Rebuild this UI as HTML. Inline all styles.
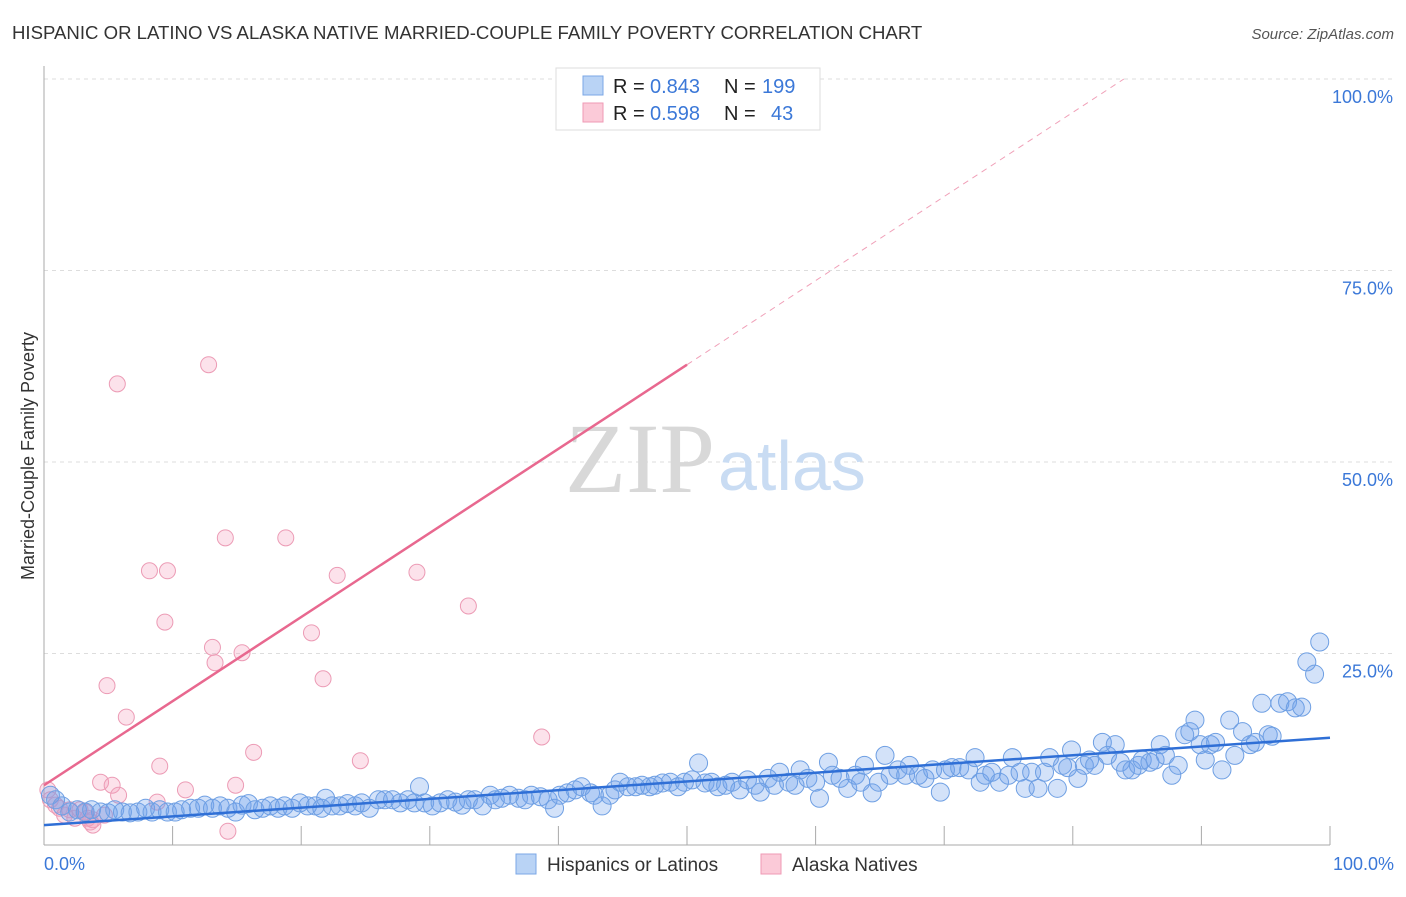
<!DOCTYPE html>
<html><head><meta charset="utf-8"><style>
body{margin:0;background:#fff;font-family:"Liberation Sans",sans-serif;}
</style></head><body>
<svg id="chart" width="1406" height="892" xmlns="http://www.w3.org/2000/svg" font-family="Liberation Sans, sans-serif">
<text x="12" y="39" font-size="18.6" fill="#333">HISPANIC OR LATINO VS ALASKA NATIVE MARRIED-COUPLE FAMILY POVERTY CORRELATION CHART</text>
<text x="1394" y="39" font-size="15" fill="#555" text-anchor="end" font-style="italic">Source: ZipAtlas.com</text>
<g id="grid"></g>
<text x="715" y="492" font-size="100" fill="#d8d8d8" text-anchor="end" style="font-family:'Liberation Serif',serif">ZIP</text>
<text x="718" y="490" font-size="70" fill="#c9dcf3">atlas</text>
<g id="marks"></g>
<text transform="translate(34,456) rotate(-90)" font-size="18" fill="#333" text-anchor="middle">Married-Couple Family Poverty</text>
<g font-size="20">
<rect x="556" y="68" width="264" height="62" fill="#fff" stroke="#ddd"/>
<rect x="583" y="76" width="20" height="19" fill="#b9d3f5" stroke="#7ba7e6"/>
<rect x="583" y="103" width="20" height="19" fill="#fbcad8" stroke="#ef9ab5"/>
<text x="613" y="93" fill="#222">R =</text>
<text x="650" y="93" fill="#3b78d8">0.843</text>
<text x="724" y="93" fill="#222">N =</text>
<text x="762" y="93" fill="#3b78d8">199</text>
<text x="613" y="120" fill="#222">R =</text>
<text x="650" y="120" fill="#3b78d8">0.598</text>
<text x="724" y="120" fill="#222">N =</text>
<text x="771" y="120" fill="#3b78d8">43</text>
</g>
<g>
<rect x="516" y="854" width="20" height="20" fill="#b9d3f5" stroke="#7ba7e6"/>
<text x="547" y="871" font-size="19" fill="#333">Hispanics or Latinos</text>
<rect x="761" y="854" width="20" height="20" fill="#fbcad8" stroke="#ef9ab5"/>
<text x="792" y="871" font-size="19" fill="#333">Alaska Natives</text>
</g>
</svg>
<script>
const yTicks=[25,50,75,100];
const yTickLabels=["25.0%","50.0%","75.0%","100.0%"];
const xTicks=[0,10,20,30,40,50,60,70,80,90,100];
const xLabels=["0.0%","100.0%"];
const blueX=[0.5,0.9,1.4,2.0,2.6,3.2,3.7,4.4,5.0,5.5,6.1,6.7,7.3,7.9,8.4,9.0,9.6,10.2,10.7,11.4,12.0,12.5,13.1,13.7,14.3,14.9,15.4,15.9,16.4,17.0,17.6,18.2,18.7,19.3,19.9,20.5,21.1,21.6,21.9,22.4,23.0,23.6,24.2,24.7,25.3,26.0,26.5,27.1,27.7,28.3,28.8,29.2,29.6,30.2,30.8,31.4,32.0,32.5,33.0,33.5,34.1,34.7,35.1,35.6,36.2,36.9,37.4,37.9,38.6,39.2,39.7,40.1,40.7,41.3,41.8,42.5,42.8,43.4,44.0,44.4,44.8,45.4,46.0,46.5,47.1,47.5,48.1,48.7,49.3,49.8,50.4,50.9,51.4,51.9,52.4,53.0,53.5,54.1,54.7,55.3,55.7,56.3,56.8,57.2,57.9,58.4,58.8,59.4,60.0,60.3,61.0,61.3,61.9,62.5,63.1,63.5,63.8,64.4,64.9,65.4,65.8,66.4,67.0,67.3,68.0,68.5,69.1,69.7,70.1,70.6,71.2,71.9,72.4,72.8,73.2,73.7,74.3,75.0,75.3,75.9,76.3,76.8,77.3,77.8,78.2,78.8,79.2,79.6,79.9,80.4,80.9,81.3,81.7,82.3,82.7,83.3,83.7,84.1,84.6,85.1,85.4,86.0,86.4,86.8,87.2,87.7,88.2,88.7,89.1,89.5,89.9,90.3,90.7,91.1,91.6,92.2,92.6,93.2,93.8,94.2,94.7,95.2,95.5,96.1,96.7,97.3,97.8,98.2,98.8,99.2];
const blueY=[6.5,5.9,5.1,4.3,4.6,4.3,4.6,4.3,4.2,4.6,4.3,4.2,4.3,4.8,4.3,4.6,4.3,4.3,4.6,4.8,4.8,5.2,4.8,5.1,4.8,4.3,5.2,5.4,4.6,4.8,5.1,4.8,5.1,4.8,5.5,5.1,5.1,4.8,6.1,5.1,5.1,5.4,5.1,5.5,4.8,5.9,5.9,5.9,5.5,5.9,5.5,7.6,5.5,5.1,5.5,5.9,5.6,5.2,5.9,5.9,5.1,6.5,5.9,6.1,6.5,6.1,5.9,6.5,6.3,5.9,4.8,6.5,6.8,7.2,7.6,6.8,6.5,5.1,6.5,7.2,8.2,7.6,7.6,7.8,7.6,7.8,8.1,8.2,7.6,8.2,8.5,10.7,8.1,8.2,7.6,7.8,8.2,7.2,8.5,7.8,6.9,8.7,7.8,9.5,8.2,7.8,9.8,8.7,8.2,6.1,10.8,9.1,8.7,7.4,9.1,8.2,10.4,6.8,8.2,11.7,9.1,9.8,9.1,10.4,9.1,8.7,9.8,6.9,9.8,10.1,10.1,9.8,11.4,8.2,9.1,9.5,8.2,9.1,11.4,9.5,7.4,9.5,7.4,9.5,11.4,7.4,10.4,10.1,12.4,8.7,10.4,11.1,10.4,13.4,11.7,13.1,10.8,9.8,9.8,10.4,11.1,10.8,11.1,13.1,11.7,9.1,10.4,14.4,14.8,16.3,13.1,11.1,13.1,13.4,9.8,16.3,11.7,14.8,13.1,13.4,18.5,14.4,14.2,18.5,18.7,17.9,18.0,23.9,22.3,26.5];
const pinkX=[0.3,0.5,0.9,1.2,1.6,2.0,2.4,2.8,3.2,3.6,3.8,4.4,5.3,5.8,5.7,6.4,4.9,8.2,9.6,9.4,9.0,8.8,11.0,12.8,13.1,13.3,14.1,14.3,14.9,15.4,16.3,18.8,20.8,21.7,22.8,24.6,29.0,33.0,38.7,46.0,3.4,3.8,4.7];
const pinkY=[7.2,5.9,5.2,4.8,3.9,4.6,3.5,4.6,4.3,3.0,3.3,8.2,7.8,6.5,60.2,16.7,20.8,35.8,35.8,29.1,10.3,5.6,7.2,62.7,25.8,23.8,40.1,1.8,7.8,25.1,12.1,40.1,27.7,21.7,35.2,11.0,35.6,31.2,14.1,99.9,3.5,2.6,3.9];
const blueTrend=[2.6,14.0];
const pinkTrend=[7.8,62.7];
const NS="http://www.w3.org/2000/svg";
const X0=44,X1=1330,Y0=845,Y100=79;
const sx=v=>X0+(X1-X0)*v/100;
const sy=v=>Y0-(Y0-Y100)*v/100;
function mk(tag,attrs,parent){const e=document.createElementNS(NS,tag);for(const k in attrs)e.setAttribute(k,attrs[k]);parent.appendChild(e);return e;}
const grid=document.getElementById('grid');
yTicks.forEach((t,i)=>{
  const l=mk('line',{x1:X0,x2:1394,y1:sy(t),y2:sy(t),stroke:'#ddd','stroke-dasharray':'4,4'},grid);
  
  
  const tx=mk('text',{x:1393,y:sy(t)+24,'font-size':18,fill:'#3b78d8','text-anchor':'end'},grid);
  tx.textContent=yTickLabels[i];
  
  
});
const ax=mk('line',{x1:X0,x2:X0,y1:66,y2:Y0,stroke:'#aaa'},grid);


const bx=mk('line',{x1:X0,x2:X1,y1:Y0,y2:Y0,stroke:'#aaa'},grid);


xTicks.forEach(t=>{
  const l=mk('line',{x1:sx(t),x2:sx(t),y1:Y0-19,y2:Y0,stroke:'#aaa'},grid);
  
  
});
[[0,'start',44],[100,'end',1394]].forEach((p,i)=>{
  const tx=mk('text',{x:p[2],y:870,'font-size':18,fill:'#3b78d8','text-anchor':p[1]},grid);
  tx.textContent=xLabels[i];
  
  
});
const marks=document.getElementById('marks');
pinkX.forEach((x,i)=>{
  const c=mk('circle',{cx:sx(x),cy:sy(pinkY[i]),r:8,fill:'rgba(244,160,190,0.3)',stroke:'#ec9bb5','stroke-width':1},marks);
  
  
});
blueX.forEach((x,i)=>{
  const c=mk('circle',{cx:sx(x),cy:sy(blueY[i]),r:9,fill:'rgba(110,160,235,0.3)',stroke:'#6e9fe3','stroke-width':1},marks);
  
  
});
const slope=(pinkTrend[1]-pinkTrend[0])/50;
const xEnd=(100-pinkTrend[0])/slope;
const pd=mk('line',{x1:sx(50),y1:sy(pinkTrend[1]),x2:sx(xEnd),y2:sy(100),stroke:'#f0a0b8','stroke-dasharray':'6,5','stroke-width':1},marks);


const pl=mk('line',{x1:sx(0),y1:sy(pinkTrend[0]),x2:sx(50),y2:sy(pinkTrend[1]),stroke:'#e8688f','stroke-width':2.5},marks);


const bl=mk('line',{x1:sx(0),y1:sy(blueTrend[0]),x2:sx(100),y2:sy(blueTrend[1]),stroke:'#2f6fd6','stroke-width':2.5},marks);


</script>
</body></html>
